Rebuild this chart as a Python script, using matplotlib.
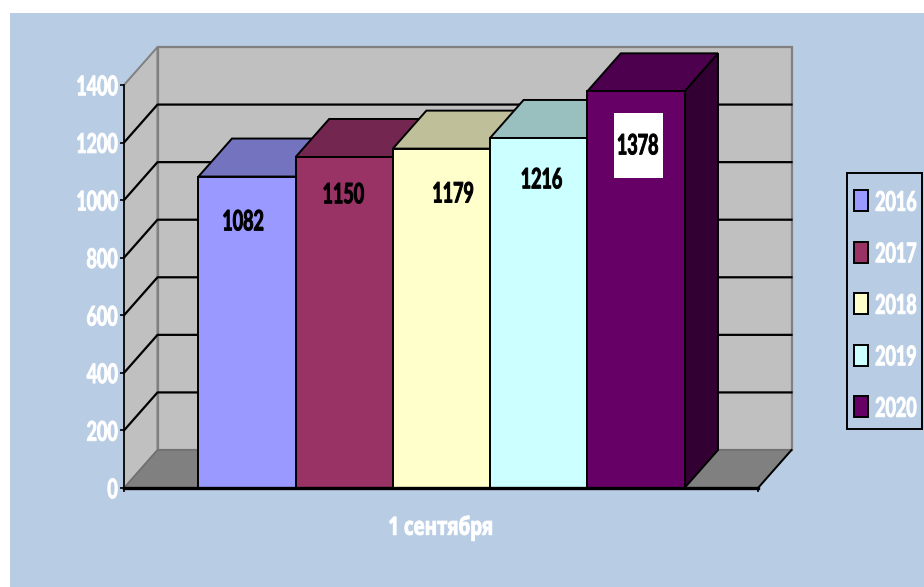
import matplotlib
matplotlib.use("Agg")
import matplotlib.pyplot as plt
from matplotlib.patches import Rectangle
from matplotlib.patheffects import AbstractPathEffect
from matplotlib.transforms import Affine2D

# ── Data ───────────────────────────────────────────────────────────────────────
years = ["2016", "2017", "2018", "2019", "2020"]
values = [1082, 1150, 1179, 1216, 1378]
category = "1 сентября"
y_ticks = [0, 200, 400, 600, 800, 1000, 1200, 1400]

front_colors = ["#9999FF", "#993366", "#FFFFCC", "#CCFFFF", "#660066"]
top_colors = ["#7373BF", "#732650", "#BFBF99", "#99BFBF", "#4D004D"]
side_colors = ["#4D4D80", "#4D1933", "#808066", "#668080", "#330033"]

# label centres were dragged by hand in the original (bar units, value units)
label_x = [0.46, 1.49, 2.62, 3.53, 4.52]
label_y = [925, 1019, 1022, 1071, 1189]

W, H = 924, 587
BG = "#B8CCE4"
WALL = "#C0C0C0"
FLOOR = "#808080"
EDGE = "#808080"
DIGITS = ["Lato", "DejaVu Sans"]
CYR = ["Open Sans", "DejaVu Sans"]


class Squeeze(AbstractPathEffect):
    """The original text is a heavy narrow face stretched upwards; no such font here."""

    def __init__(self, sx, sy, anchor="center", stroke=0.7):
        super().__init__()
        self.sx, self.sy, self.anchor, self.stroke = sx, sy, anchor, stroke

    def draw_path(self, renderer, gc, tpath, affine, rgbFace=None):
        ext = tpath.transformed(affine).get_extents()
        ax_ = {"left": ext.x0, "right": ext.x1, "center": (ext.x0 + ext.x1) / 2}[self.anchor]
        cy = (ext.y0 + ext.y1) / 2
        new = affine + Affine2D().translate(-ax_, -cy).scale(self.sx, self.sy).translate(ax_, cy)
        gc0 = renderer.new_gc()
        gc0.copy_properties(gc)
        gc0.set_linewidth(self.stroke)
        gc0.set_foreground(rgbFace)
        renderer.draw_path(gc0, tpath, new, rgbFace)
        gc0.restore()


fig = plt.figure(figsize=(W / 100, H / 100), dpi=100, facecolor="white")
fig.add_artist(Rectangle((10 / W, 0), 914 / W, 574 / H, transform=fig.transFigure,
                         facecolor=BG, edgecolor="none", zorder=-5))

# front plane of the 3D box
ax = fig.add_axes([124 / W, (H - 488) / H, 634 / W, 403 / H])
ax.patch.set_visible(False)
x0, x1 = -0.766, 5.756
ax.set_xlim(x0, x1)
ax.set_ylim(0, 1400)
DX = 33.5 / 97.2   # depth of the box in bar units
DY = 38 / 403 * 1400  # depth of the box in value units
YMAX = y_ticks[-1]

# ── Walls and floor ────────────────────────────────────────────────────────────
ax.fill([x0, x0 + DX, x0 + DX, x0], [0, DY, YMAX + DY, YMAX],
        facecolor=WALL, edgecolor=EDGE, linewidth=1.4, clip_on=False, zorder=1)
ax.fill([x0 + DX, x1 + DX, x1 + DX, x0 + DX], [DY, DY, YMAX + DY, YMAX + DY],
        facecolor=WALL, edgecolor=EDGE, linewidth=1.6, clip_on=False, zorder=1)
ax.fill([x0, x1, x1 + DX, x0 + DX], [0, 0, DY, DY],
        facecolor=FLOOR, edgecolor="#6E6E6E", linewidth=1.0, clip_on=False, zorder=2)
ax.plot([x1, x1 + DX], [0, DY], color="black", linewidth=1.4, clip_on=False, zorder=2)

for t in y_ticks[1:-1]:
    ax.plot([x0, x0 + DX, x1 + DX], [t, t + DY, t + DY], color="black",
            linewidth=1.6, clip_on=False, zorder=3)

# ── Bars ───────────────────────────────────────────────────────────────────────
for i, v in enumerate(values):
    z = 4 + i
    ax.fill([i + 1, i + 1 + DX, i + 1 + DX, i + 1], [0, DY, v + DY, v],
            facecolor=side_colors[i], edgecolor="black", linewidth=1.4, clip_on=False, zorder=z)
    ax.fill([i, i + 1, i + 1 + DX, i + DX], [v, v, v + DY, v + DY],
            facecolor=top_colors[i], edgecolor="black", linewidth=1.4, clip_on=False, zorder=z)
    ax.bar(i + 0.5, v, width=1, color=front_colors[i], edgecolor="black", linewidth=1.4, zorder=z)

for i, v in enumerate(values):
    t = ax.text(label_x[i], label_y[i], str(v), ha="center", va="center", color="black",
                fontsize=15, fontweight="bold", family=DIGITS, zorder=12)
    t.set_path_effects([Squeeze(0.86, 1.35)])
    if years[i] == "2020":
        # white label background, taller than the text in the original
        ax.add_patch(Rectangle((label_x[i] - 0.25, label_y[i] - 113), 0.505, 225,
                               facecolor="white", edgecolor="none", zorder=11))

# ── Axes ───────────────────────────────────────────────────────────────────────
for s in ("top", "right"):
    ax.spines[s].set_visible(False)
ax.spines["left"].set_linewidth(1.2)
ax.spines["left"].set_zorder(3)
ax.spines["bottom"].set_linewidth(2.4)
ax.spines["bottom"].set_zorder(11)
ax.set_yticks(y_ticks)
ax.set_yticklabels([str(t) for t in y_ticks], color="white", fontsize=15,
                   fontweight="bold", family=DIGITS)
for lab in ax.get_yticklabels():
    lab.set_path_effects([Squeeze(0.86, 1.3, "right")])
ax.set_xticks([x0, x1])
ax.set_xticklabels(["", ""])
ax.tick_params(axis="both", length=3, width=1.2, color="black", pad=1.5)
xl = ax.set_xlabel(category, color="white", fontsize=15, fontweight="bold", family=CYR, labelpad=16)
xl.set_path_effects([Squeeze(0.9, 1.2)])

# ── Legend ─────────────────────────────────────────────────────────────────────
lax = fig.add_axes([847 / W, (H - 429) / H, 75 / W, 256 / H], facecolor=BG)
lax.set_xlim(0, 75)
lax.set_ylim(256, 0)
lax.set_xticks([])
lax.set_yticks([])
for s in lax.spines.values():
    s.set_linewidth(1.4)
for i, (c, y) in enumerate(zip(front_colors, years)):
    yc = 27.5 + i * 51.5
    lax.add_patch(Rectangle((7, yc - 10.5), 14, 21, facecolor=c, edgecolor="black", linewidth=1.4))
    t = lax.text(28, yc + 2, y, color="white", fontsize=15, fontweight="bold", family=DIGITS,
                 ha="left", va="center")
    t.set_path_effects([Squeeze(0.86, 1.3, "left")])

fig.savefig("out.png", dpi=100)
